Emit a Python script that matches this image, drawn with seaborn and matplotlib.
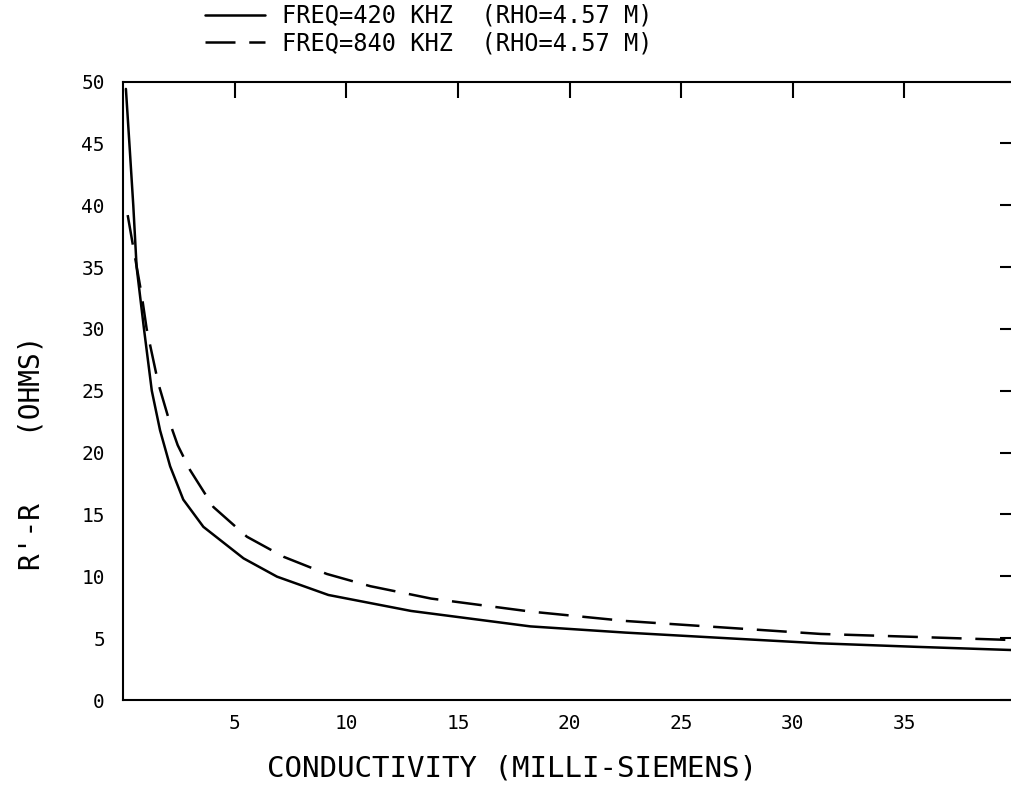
import matplotlib
matplotlib.use("Agg")
import matplotlib.pyplot as plt
import seaborn as sns
import pandas as pd

sns.set_theme(style="white")
plt.rcParams['font.family'] = ['DejaVu Sans Mono', 'DejaVu Sans']
plt.rcParams['text.color'] = 'black'

# --- data ---
cond_420 = [0.13, 0.30, 0.46, 0.61, 0.94, 1.29, 1.66, 2.11, 2.70, 3.60, 5.40, 6.90,
            9.20, 12.9, 18.25, 22.5, 27.0, 31.25, 35.5, 39.8]
r_420 = [49.4, 44.6, 40.0, 35.0, 30.0, 25.0, 21.8, 18.9, 16.2, 14.0, 11.45, 9.97,
         8.49, 7.20, 5.95, 5.45, 5.00, 4.58, 4.30, 4.04]

cond_840 = [0.21, 0.46, 0.84, 1.06, 1.58, 2.10, 2.45, 3.00, 4.05, 5.55, 7.19, 9.13,
            11.08, 13.8, 18.25, 22.5, 27.0, 31.25, 35.5, 39.8]
r_840 = [39.2, 36.6, 32.7, 30.0, 25.6, 22.4, 20.6, 18.6, 15.6, 13.2, 11.58, 10.19,
         9.20, 8.20, 7.15, 6.39, 5.85, 5.34, 5.10, 4.85]

series_labels = ["FREQ=420 KHZ  (RHO=4.57 M)", "FREQ=840 KHZ  (RHO=4.57 M)"]
x_ticks = [5, 10, 15, 20, 25, 30, 35]
y_ticks = [0, 5, 10, 15, 20, 25, 30, 35, 40, 45, 50]
x_title = "CONDUCTIVITY (MILLI-SIEMENS)"
y_title = "R'-R    (OHMS)"

df = pd.concat([
    pd.DataFrame({"cond": cond_420, "r": r_420, "series": series_labels[0]}),
    pd.DataFrame({"cond": cond_840, "r": r_840, "series": series_labels[1]}),
], ignore_index=True)

fig = plt.figure(figsize=(10.11, 7.85), dpi=100)
ax = fig.add_axes([123 / 1011, 85 / 785, 893 / 1011, 618.5 / 785])

sns.lineplot(data=df, x="cond", y="r", style="series", color="black",
             dashes={series_labels[0]: "", series_labels[1]: (12, 5.5)},
             linewidth=1.8, estimator=None, sort=False, ax=ax, legend=True)

ax.set_xlim(0, 40)
ax.set_ylim(0, 50)
ax.set_xticks(x_ticks)
ax.set_yticks(y_ticks)
ax.tick_params(axis="both", which="both", direction="in", length=11.5, width=1.5,
               top=True, right=True, labelsize=14, colors="black")
ax.tick_params(axis="x", pad=10)
ax.tick_params(axis="y", pad=13)
for s in ax.spines.values():
    s.set_visible(True)
    s.set_color("black")
    s.set_linewidth(1.5)

ax.set_xlabel(x_title, fontsize=21, color="black")
ax.set_ylabel(y_title, fontsize=20, color="black")
ax.xaxis.set_label_coords(0.436, -0.088)
ax.yaxis.set_label_coords(-0.087, 0.40)

handles, labels = ax.get_legend_handles_labels()
ax.legend_.remove()
fig.legend(handles, labels, loc="upper left", bbox_to_anchor=(205 / 1011, 1 - 4 / 785),
           frameon=False, fontsize=17, handlelength=2.55, handletextpad=0.7,
           borderpad=0, borderaxespad=0, labelspacing=0.15, labelcolor="black")

fig.savefig("out.png", dpi=100, facecolor="white")
